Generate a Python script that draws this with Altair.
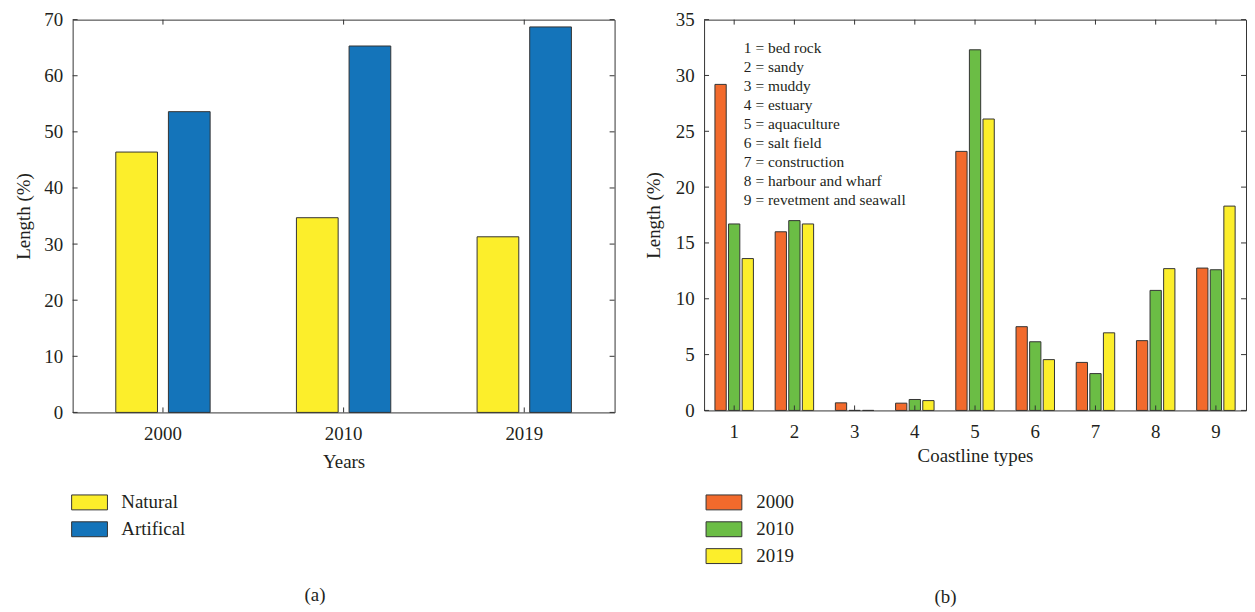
import altair as alt
import pandas as pd

# ---------------- data ----------------
years_a = ["2000", "2010", "2019"]
series_a = ["Natural", "Artifical"]
natural = [46.4, 34.7, 31.3]
artificial = [53.6, 65.3, 68.7]
yticks_a = [0, 10, 20, 30, 40, 50, 60, 70]

types_b = ["1", "2", "3", "4", "5", "6", "7", "8", "9"]
type_names = ["bed rock", "sandy", "muddy", "estuary", "aquaculture",
              "salt field", "construction", "harbour and wharf",
              "revetment and seawall"]
series_b = ["2000", "2010", "2019"]
b2000 = [29.2, 16.0, 0.68, 0.65, 23.2, 7.5, 4.3, 6.25, 12.75]
b2010 = [16.7, 17.0, 0.0, 0.98, 32.3, 6.15, 3.3, 10.75, 12.6]
b2019 = [13.6, 16.7, 0.0, 0.88, 26.1, 4.55, 6.95, 12.7, 18.3]
yticks_b = [0, 5, 10, 15, 20, 25, 30, 35]

# ---------------- style ----------------
FONT = "Liberation Serif"
TXT = "#231f20"
FRAME = "#333333"
YELLOW = "#fcee2b"
BLUE = "#1474ba"
ORANGE = "#f26a2c"
GREEN = "#6bbd45"
RECT = "M-2.4,-1L2.4,-1L2.4,1L-2.4,1Z"

W_A, H_A = 545, 395
W_B, H_B = 545, 393

df_a = pd.DataFrame({
    "year": years_a * 2,
    "series": [series_a[0]] * 3 + [series_a[1]] * 3,
    "value": natural + artificial,
})
df_b = pd.DataFrame({
    "type": types_b * 3,
    "series": [series_b[0]] * 9 + [series_b[1]] * 9 + [series_b[2]] * 9,
    "value": b2000 + b2010 + b2019,
})


def legend(lx, ly, loff):
    return alt.Legend(
        title=None, orient="none", legendX=lx, legendY=ly,
        symbolType=RECT, symbolSize=225, symbolStrokeColor=FRAME,
        symbolStrokeWidth=1, symbolOpacity=1, labelFont=FONT,
        labelFontSize=19, labelColor=TXT, labelOffset=loff,
        rowPadding=7, padding=0,
    )


def framed_ticks(data, xfield, xsort, yfield, w, h):
    xs = alt.X(f"{xfield}:N", sort=xsort)
    ys = alt.Y(f"{yfield}:Q")
    bot = alt.Chart(data["x"]).mark_rule(color=FRAME).encode(
        x=xs, y=alt.value(h), y2=alt.value(h - 5))
    top = alt.Chart(data["x"]).mark_rule(color=FRAME).encode(
        x=xs, y=alt.value(0), y2=alt.value(5))
    lft = alt.Chart(data["y"]).mark_rule(color=FRAME).encode(
        y=ys, x=alt.value(0), x2=alt.value(5))
    rgt = alt.Chart(data["y"]).mark_rule(color=FRAME).encode(
        y=ys, x=alt.value(w - 5), x2=alt.value(w))
    return [bot, top, lft, rgt]


def axis(title, lp, tp, **kw):
    return alt.Axis(title=title, ticks=False, domain=False, grid=False,
                    labelPadding=lp, titlePadding=tp,
                    labelFont=FONT, labelFontSize=19, labelColor=TXT,
                    titleFont=FONT, titleFontSize=19, titleColor=TXT,
                    titleFontWeight="normal", **kw)


# ---------------- panel (a) ----------------
bars_a = alt.Chart(df_a).mark_bar(stroke=FRAME, strokeWidth=1, opacity=1).encode(
    x=alt.X("year:N", sort=years_a,
            scale=alt.Scale(paddingInner=0, paddingOuter=0),
            axis=axis("Years", 12, 9, labelAngle=0)),
    xOffset=alt.XOffset("series:N", sort=series_a,
                        scale=alt.Scale(paddingInner=0.2075, paddingOuter=0.82)),
    y=alt.Y("value:Q", scale=alt.Scale(domain=[0, 70], nice=False),
            axis=axis("Length (%)", 10, 10, values=yticks_a)),
    color=alt.Color("series:N", sort=series_a,
                    scale=alt.Scale(domain=series_a, range=[YELLOW, BLUE]),
                    legend=legend(7.5, 476, 22.5)),
)
ticks_a = framed_ticks(
    {"x": pd.DataFrame({"year": years_a}), "y": pd.DataFrame({"value": yticks_a})},
    "year", years_a, "value", W_A, H_A)

panel_a = alt.layer(bars_a, *ticks_a).properties(
    width=W_A, height=H_A,
    title=alt.TitleParams("(a)", orient="bottom", frame="bounds", anchor="middle",
                          font=FONT, fontSize=19, fontWeight="normal", color=TXT,
                          offset=47),
)

# ---------------- panel (b) ----------------
bars_b = alt.Chart(df_b).mark_bar(stroke=FRAME, strokeWidth=1, opacity=1).encode(
    x=alt.X("type:N", sort=types_b,
            scale=alt.Scale(paddingInner=0, paddingOuter=0),
            axis=axis("Coastline types", 12, 5, labelAngle=0)),
    xOffset=alt.XOffset("series:N", sort=series_b,
                        scale=alt.Scale(paddingInner=0.17, paddingOuter=0.8)),
    y=alt.Y("value:Q", scale=alt.Scale(domain=[0, 35], nice=False),
            axis=axis("Length (%)", 10, 12, values=yticks_b)),
    color=alt.Color("series:N", sort=series_b,
                    scale=alt.Scale(domain=series_b, range=[ORANGE, GREEN, YELLOW]),
                    legend=legend(10.5, 476, 23)),
)
ticks_b = framed_ticks(
    {"x": pd.DataFrame({"type": types_b}), "y": pd.DataFrame({"value": yticks_b})},
    "type", types_b, "value", W_B, H_B)

note_lines = [f"{i} = {n}" for i, n in zip(types_b, type_names)]
note = alt.Chart(pd.DataFrame({"k": [0]})).mark_text(
    text=note_lines, align="left", baseline="middle", lineHeight=19,
    font=FONT, fontSize=15.5, color=TXT,
).encode(x=alt.value(40), y=alt.value(29))

panel_b = alt.layer(bars_b, *ticks_b, note).properties(
    width=W_B, height=H_B,
    title=alt.TitleParams("(b)", orient="bottom", frame="bounds", anchor="middle",
                          font=FONT, fontSize=19, fontWeight="normal", color=TXT,
                          offset=22),
)

chart = alt.hconcat(panel_a, panel_b, spacing=28).resolve_scale(
    x="independent", y="independent", color="independent",
    xOffset="independent",
).resolve_legend(color="independent").properties(
    padding={"left": 6, "top": 0, "right": 0, "bottom": 0},
    background="white",
).configure_view(
    stroke=FRAME, strokeWidth=1
)

chart.save("out.html", embed_options={"renderer": "svg", "actions": False})
